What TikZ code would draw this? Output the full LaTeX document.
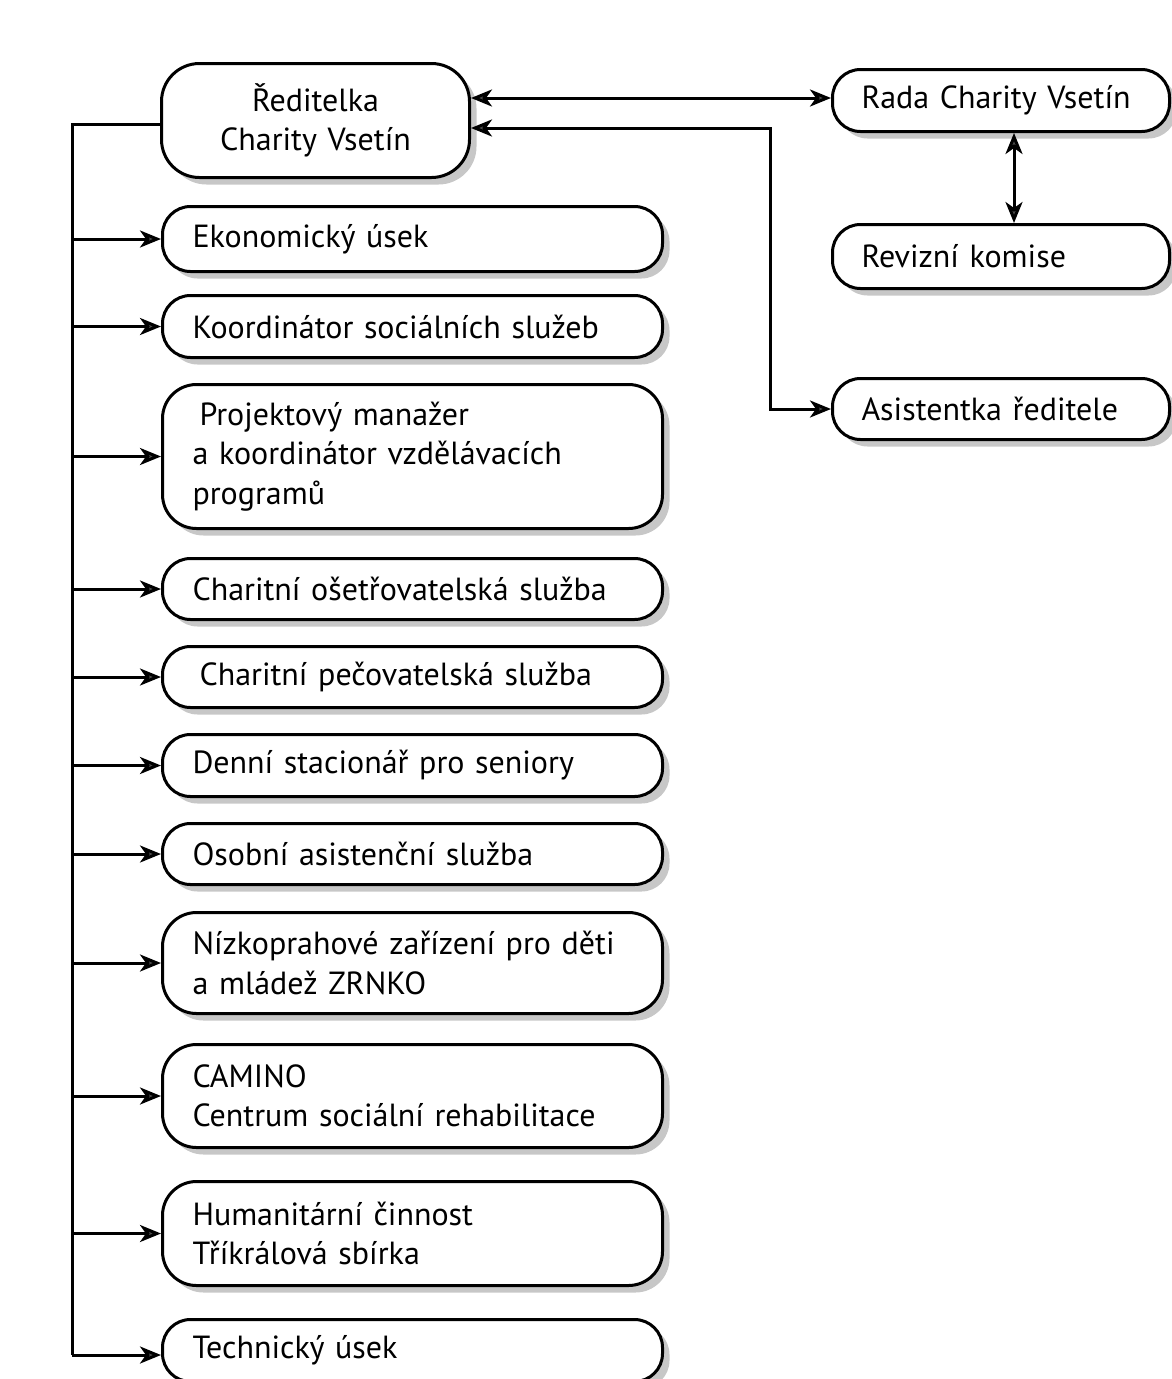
\documentclass[tikz,border=0pt]{standalone}
\usepackage{fontspec}
\setmainfont[WordSpace=0.75]{PT Sans}
\usetikzlibrary{arrows.meta,shadows}
\begin{document}
\begin{tikzpicture}[x=1pt,y=-1pt,
  boxbase/.style={draw=black, line width=3pt, fill=white,
    general shadow={shadow xshift=7pt, shadow yshift=-7pt, fill=black!22, draw=none},
    font=\fontsize{32}{39.5}\selectfont, inner ysep=0pt, anchor=north west},
  lbox/.style={boxbase, rounded corners=28pt, inner xsep=30pt, text width=440pt, align=left, minimum height=#1},
  tbox/.style={boxbase, rounded corners=34pt, inner xsep=30pt, text width=440pt, align=left, minimum height=#1},
  rbox/.style={boxbase, rounded corners=28pt, inner xsep=29pt, text width=279pt, align=left, minimum height=#1},
  topbox/.style={boxbase, rounded corners=38pt, inner xsep=8pt, text width=292pt, align=center, minimum height=#1},
  conn/.style={line width=3pt, draw=black},
  tip/.style={-{Stealth[length=21pt,width=17pt,inset=6pt,fill=black!70]}},
  dtip/.style={{Stealth[length=21pt,width=17pt,inset=6pt,fill=black!70]}-{Stealth[length=21pt,width=17pt,inset=6pt,fill=black!70]}}
]
\useasboundingbox (0,0) rectangle (1172,1379);
\clip (0,0) rectangle (1172,1379);

% top
\node[topbox=114pt] (dir) at (160,62) {Ředitelka\\Charity Vsetín};

% right column
\node[rbox=62pt] (rada) at (831,68) {Rada Charity Vsetín};
\node[rbox=64pt] (rev) at (831,223) {Revizní komise};
\node[rbox=61pt] (asis) at (831,377) {Asistentka ředitele};

% left column
\node[lbox=65pt] (b1) at (161,205) {Ekonomický úsek};
\node[lbox=62pt] (b2) at (161,294) {Koordinátor sociálních služeb};
\node[tbox=144pt] (b3) at (161,383) {\hspace*{7pt}Projektový manažer\\a koordinátor vzdělávacích\\programů};
\node[lbox=61pt] (b4) at (161,557) {Charitní ošetřovatelská služba};
\node[lbox=61pt] (b5) at (161,645) {\hspace*{7pt}Charitní pečovatelská služba};
\node[lbox=62pt] (b6) at (161,733) {Denní stacionář pro seniory};
\node[lbox=61pt] (b7) at (161,822) {Osobní asistenční služba};
\node[tbox=101pt] (b8) at (161,911) {Nízkoprahové zařízení pro děti\\a mládež ZRNKO};
\node[tbox=103pt] (b9) at (161,1043) {CAMINO\\Centrum sociální rehabilitace};
\node[tbox=104pt] (b10) at (161,1180) {Humanitární činnost\\Tříkrálová sbírka};
\node[lbox=62pt] (b11) at (161,1318) {Technický úsek};

% trunk
\coordinate (trunk) at (72,0);
\coordinate (tbot) at (72,1355);
\draw[conn] ([yshift=-62pt]dir.north west) -| (tbot);
\foreach \b in {b1,b2,b3,b4,b5,b6,b7,b8,b9,b10} {
  \draw[conn,tip] (trunk |- \b.west) -- (\b.west);
}
\draw[conn,tip] (tbot) -- (tbot -| b11.west);

% right connectors
\draw[conn,dtip] ([yshift=-36pt]dir.north east) -- ([yshift=-36pt]dir.north east -| rada.west);
\coordinate (bend) at (770,0);
\draw[conn,dtip] ([yshift=-66pt]dir.north east) -| (bend |- asis.west) -- (asis.west);
\draw[conn,dtip] (rada.south -| 1014,0) -- (rev.north -| 1014,0);
\end{tikzpicture}
\end{document}
